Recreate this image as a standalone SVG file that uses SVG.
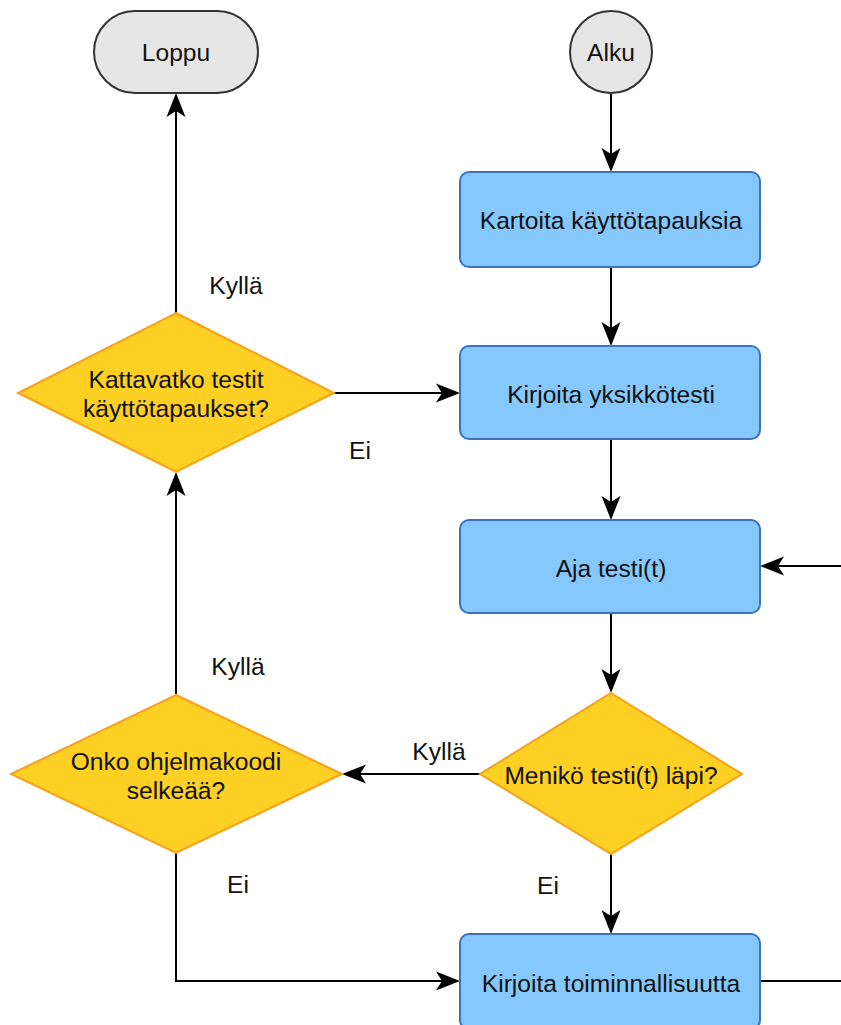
<svg xmlns="http://www.w3.org/2000/svg" width="841" height="1025" viewBox="0 0 841 1025">
  <style>
    text { font-family: "Liberation Sans", Arial, sans-serif; font-size: 24.6px; fill: #111; text-anchor: middle; }
    .term { fill: #e6e6e6; stroke: #333333; stroke-width: 2; }
    .proc { fill: #85c8fd; stroke: #3b72c2; stroke-width: 2; }
    .dec { fill: #fdd023; stroke: #f7a01a; stroke-width: 2; }
    .edge { fill: none; stroke: #000; stroke-width: 2; marker-end: url(#arrow); }
  </style>
  <defs>
    <!-- notched classic arrowhead, tip placed 6 units past the line end -->
    <marker id="arrow" viewBox="-19 -10 26 20" refX="0" refY="0" markerWidth="26" markerHeight="20" markerUnits="userSpaceOnUse" orient="auto">
      <path d="M6,0 L-18,-9.5 L-12,0 L-18,9.5 Z" fill="#000"/>
    </marker>
  </defs>

  <rect width="841" height="1025" fill="#ffffff"/>

  <g id="connectors">
    <path class="edge" d="M611,93 V166"/>
    <path class="edge" d="M611,267 V340"/>
    <path class="edge" d="M611,439 V514"/>
    <path class="edge" d="M611,613 V687"/>
    <path class="edge" d="M480,774 H348"/>
    <path class="edge" d="M611,854 V928"/>
    <path class="edge" d="M176,694 V478"/>
    <path class="edge" d="M176,853 V981 H454"/>
    <path class="edge" d="M176,313 V99"/>
    <path class="edge" d="M334,393 H454"/>
    <path class="edge" d="M760,981 H850 V566 H766"/>
    <text x="236" y="294">Kyllä</text>
    <text x="360" y="459">Ei</text>
    <text x="238" y="675">Kyllä</text>
    <text x="439" y="760">Kyllä</text>
    <text x="238" y="893">Ei</text>
    <text x="548" y="894">Ei</text>
  </g>

  <g id="loppu">
    <rect class="term" x="94" y="11" width="164" height="82" rx="41" ry="41"/>
    <text x="176" y="61">Loppu</text>
  </g>

  <g id="alku">
    <circle class="term" cx="611" cy="52" r="41"/>
    <text x="611" y="61">Alku</text>
  </g>

  <g id="kartoita">
    <rect class="proc" x="460" y="172" width="300" height="95" rx="9" ry="9"/>
    <text x="611" y="229">Kartoita käyttötapauksia</text>
  </g>

  <g id="kirjoita-yksikkotesti">
    <rect class="proc" x="460" y="346" width="300" height="93" rx="9" ry="9"/>
    <text x="611" y="403">Kirjoita yksikkötesti</text>
  </g>

  <g id="aja-testit">
    <rect class="proc" x="460" y="520" width="300" height="93" rx="9" ry="9"/>
    <text x="611" y="577">Aja testi(t)</text>
  </g>

  <g id="kirjoita-toiminnallisuutta">
    <rect class="proc" x="460" y="934" width="300" height="95" rx="9" ry="9"/>
    <text x="611" y="992">Kirjoita toiminnallisuutta</text>
  </g>

  <g id="kattavatko">
    <polygon class="dec" points="176,313 334,393 176,472 18,393"/>
    <text x="176" y="388">Kattavatko testit</text>
    <text x="176" y="417">käyttötapaukset?</text>
  </g>

  <g id="onko-selkea">
    <polygon class="dec" points="176,695 342,774 176,853 11,774"/>
    <text x="176" y="770">Onko ohjelmakoodi</text>
    <text x="176" y="799">selkeää?</text>
  </g>

  <g id="meniko-lapi">
    <polygon class="dec" points="611,693 742,774 611,854 480,774"/>
    <text x="611" y="784">Menikö testi(t) läpi?</text>
  </g>
</svg>
